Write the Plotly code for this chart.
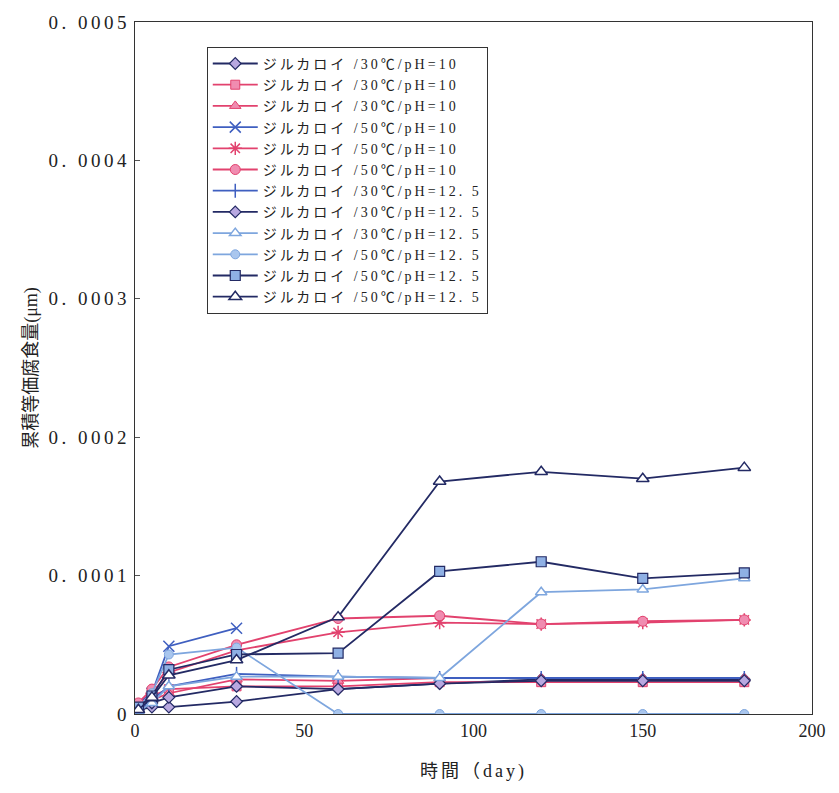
import plotly.graph_objects as go

days = [1, 5, 10, 30, 60, 90, 120, 150, 180]
days_x = [1, 5, 10, 30]

names = [
    "ジルカロイ /30℃/pH=10",
    "ジルカロイ /30℃/pH=10",
    "ジルカロイ /30℃/pH=10",
    "ジルカロイ /50℃/pH=10",
    "ジルカロイ /50℃/pH=10",
    "ジルカロイ /50℃/pH=10",
    "ジルカロイ /30℃/pH=12. 5",
    "ジルカロイ /30℃/pH=12. 5",
    "ジルカロイ /30℃/pH=12. 5",
    "ジルカロイ /50℃/pH=12. 5",
    "ジルカロイ /50℃/pH=12. 5",
    "ジルカロイ /50℃/pH=12. 5",
]

# values in units of 1e-5 um
s1 = [0.3, 0.5, 0.5, 0.9, 1.8, 2.2, 2.5, 2.5, 2.5]
s2 = [0.5, 1.3, 1.8, 2.0, 2.0, 2.3, 2.3, 2.3, 2.3]
s3 = [0.3, 1.0, 1.5, 2.5, 2.4, 2.6, 2.6, 2.6, 2.6]
s4 = [0.8, 1.5, 4.9, 6.2]
s5 = [0.5, 1.5, 3.0, 4.6, 5.9, 6.6, 6.5, 6.6, 6.8]
s6 = [0.8, 1.8, 3.4, 5.0, 6.9, 7.1, 6.5, 6.7, 6.8]
s7 = [0.3, 1.0, 2.0, 2.9, 2.7, 2.6, 2.6, 2.6, 2.6]
s8 = [0.2, 0.8, 1.2, 2.0, 1.8, 2.2, 2.4, 2.4, 2.4]
s9 = [0.2, 0.8, 2.0, 2.7, 2.7, 2.6, 8.8, 9.0, 9.8]
s10 = [0.5, 1.5, 4.3, 4.8, 0.0, 0.0, 0.0, 0.0, 0.0]
s11 = [0.5, 1.3, 3.2, 4.3, 4.4, 10.3, 11.0, 9.8, 10.2]
s12 = [0.3, 1.2, 2.8, 3.9, 7.0, 16.8, 17.5, 17.0, 17.8]

y_tickvals = [0, 0.0001, 0.0002, 0.0003, 0.0004, 0.0005]
y_labels = ["0", "0. 0001", "0. 0002", "0. 0003", "0. 0004", "0. 0005"]
x_tickvals = [0, 50, 100, 150, 200]

NAVY = "#232a64"
PINK = "#e2426e"
PINKF = "#f08cb0"
LBLUE = "#7ea6de"
BLUE = "#3f5fc0"
LPURP = "#b8a8e0"


def spaced(t, px):
    return '<span style="letter-spacing:%spx">%s</span>' % (px, t.replace(" ", "\u00a0"))


styles = [
    (days, s1, NAVY, dict(symbol="diamond", color=LPURP, size=9, line=dict(color=NAVY, width=1.2))),
    (days, s2, PINK, dict(symbol="square", color=PINKF, size=9, line=dict(color=PINK, width=1))),
    (days, s3, PINK, dict(symbol="triangle-up", color=PINKF, size=10, line=dict(color=PINK, width=1))),
    (days_x, s4, BLUE, dict(symbol="x-thin-open", color=BLUE, size=11, line=dict(color=BLUE, width=1.5))),
    (days, s5, PINK, dict(symbol="asterisk-open", color=PINK, size=11, line=dict(color=PINK, width=1.5))),
    (days, s6, PINK, dict(symbol="circle", color=PINKF, size=10, line=dict(color=PINK, width=1))),
    (days, s7, BLUE, dict(symbol="line-ns-open", color=BLUE, size=10, line=dict(color=BLUE, width=1.5))),
    (days, s8, NAVY, dict(symbol="diamond", color=LPURP, size=9, line=dict(color=NAVY, width=1.2))),
    (days, s9, LBLUE, dict(symbol="triangle-up", color="white", size=10, line=dict(color=LBLUE, width=1.5))),
    (days, s10, LBLUE, dict(symbol="circle", color="#a9c6ee", size=9, line=dict(color=LBLUE, width=1))),
    (days, s11, NAVY, dict(symbol="square", color="#8fb0e4", size=10, line=dict(color=NAVY, width=1.2))),
    (days, s12, NAVY, dict(symbol="triangle-up", color="white", size=11, line=dict(color=NAVY, width=1.5))),
]

fig = go.Figure()
for name, (xs, ys, lc, mk) in zip(names, styles):
    fig.add_trace(go.Scatter(
        x=xs, y=[v * 1e-5 for v in ys], name=spaced(name, 3), mode="lines+markers",
        line=dict(color=lc, width=1.8), marker=mk,
    ))

fig.update_layout(
    width=839, height=793,
    margin=dict(l=127, r=35, t=14, b=87),
    paper_bgcolor="white", plot_bgcolor="white",
    font=dict(family="Liberation Serif, Noto Sans CJK JP", size=15, color="#222"),
    legend=dict(
        x=0.106, y=0.964, xanchor="left", yanchor="top",
        bordercolor="#333", borderwidth=1, bgcolor="white",
        font=dict(family="Liberation Serif, Noto Sans CJK JP", size=14, color="#222"),
        tracegroupgap=0, itemwidth=45,
    ),
    showlegend=True,
)
fig.update_xaxes(
    range=[0, 200], tickvals=x_tickvals, showgrid=False, zeroline=False,
    showline=True, linecolor="#333", linewidth=1.2, mirror=True, automargin=False,
    ticks="", tickfont=dict(size=18),
    title=dict(text=spaced("時間（day)", 3), font=dict(size=18), standoff=24),
)
fig.update_yaxes(
    range=[0, 0.0005], tickvals=y_tickvals, ticktext=[spaced(t, 3.5) for t in y_labels],
    showgrid=False, zeroline=False, automargin=False,
    showline=True, linecolor="#333", linewidth=1.2, mirror=True,
    ticks="inside", ticklen=5, tickcolor="#555", tickfont=dict(size=19),
    title=dict(text="累積等価腐食量(μm)", font=dict(size=18), standoff=6),
)

fig.write_html("out.html")
